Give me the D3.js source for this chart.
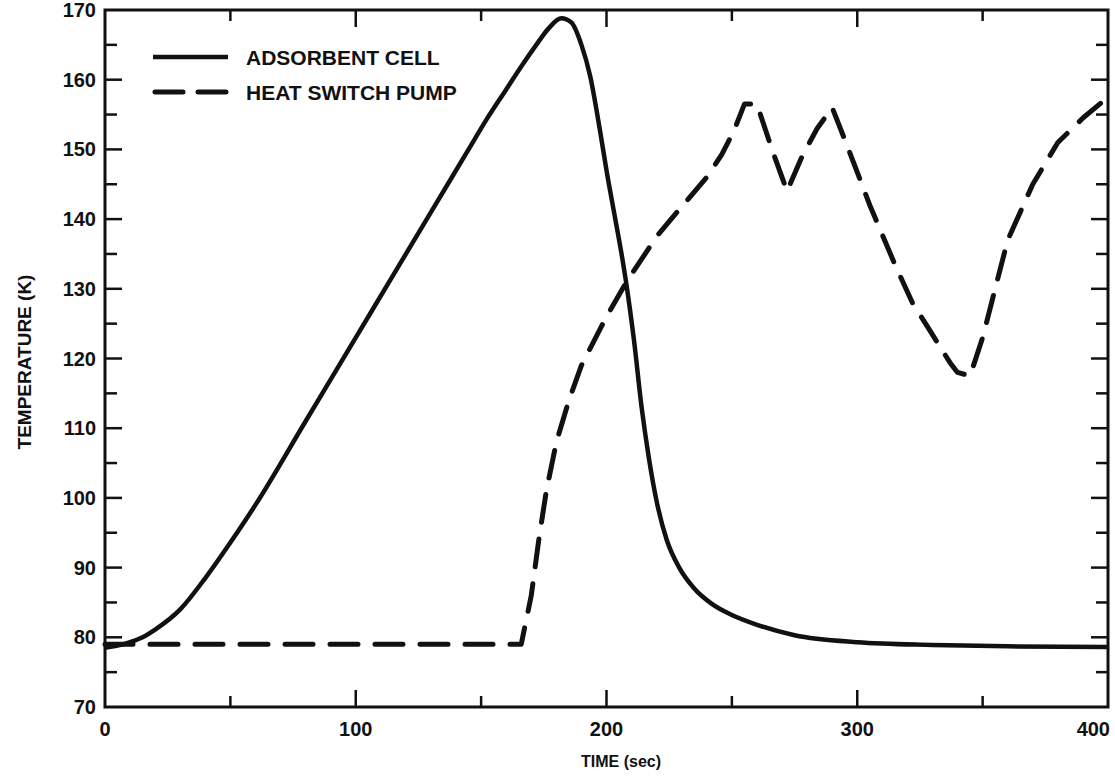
<!DOCTYPE html>
<html>
<head>
<meta charset="utf-8">
<script src="https://cdn.jsdelivr.net/npm/d3@7"></script>
<style>
  html, body { margin: 0; padding: 0; background: #fff; }
  svg { display: block; }
  text { font-family: "Liberation Sans", Arial, sans-serif; fill: #111; }
</style>
</head>
<body>
<svg id="chart"></svg>
<script>
// ---- data ----
const cellTime = [0, 5, 10, 15, 20, 30, 40, 50, 60, 80, 100, 115, 130, 145, 152, 160, 166, 172, 177, 182, 186, 190, 193.5, 197.5, 200, 203, 206, 208, 211, 214, 217, 220, 224, 229, 235, 242, 250, 260, 275, 300, 330, 360, 400];
const cellTemp = [78.5, 78.8, 79.3, 80, 81.1, 84, 88.5, 93.6, 99, 111, 123, 132, 141, 150, 154.2, 158.6, 161.9, 165, 167.4, 168.8, 168.2, 165, 160.5, 152.5, 147, 141, 135, 130.5, 122.5, 113, 105.5, 99.5, 94, 90, 87, 84.8, 83.2, 81.8, 80.3, 79.3, 78.9, 78.7, 78.6];

const pumpTime = [0, 166, 170, 173, 176, 180, 185, 190, 200, 208, 220, 230, 240, 246, 251, 255, 260, 266, 272, 278, 284, 290, 296, 305, 315, 322, 329, 337, 340, 345, 350, 355, 360, 370, 380, 390, 400];
const pumpTemp = [79, 79, 86, 94, 101, 108, 114, 119, 126, 131, 137.5, 141.8, 146, 149.3, 152.8, 156.5, 156.5, 150, 144, 149, 153, 156, 150.5, 142, 133.5, 128, 124, 119.4, 118, 117.5, 123, 130, 137, 145, 151, 154.5, 157.5];

const xTicks = [0, 100, 200, 300, 400];
const yTicks = [70, 80, 90, 100, 110, 120, 130, 140, 150, 160, 170];

const legendLabels = ["ADSORBENT CELL", "HEAT SWITCH PUMP"];

// ---- layout ----
const width = 1115, height = 783;
const plot = { left: 105, right: 1108, top: 10, bottom: 707 };
const ink = "#111";

const svg = d3.select("#chart").attr("width", width).attr("height", height);

const x = d3.scaleLinear().domain([0, 400]).range([plot.left, plot.right]);
const y = d3.scaleLinear().domain([70, 170]).range([plot.bottom, plot.top]);

// frame
svg.append("rect")
    .attr("x", plot.left).attr("y", plot.top)
    .attr("width", plot.right - plot.left).attr("height", plot.bottom - plot.top)
    .attr("fill", "none").attr("stroke", ink).attr("stroke-width", 3);

// ticks, all pointing inward
const xMinor = d3.range(0, 401, 50);
const yMinor = d3.range(70, 171, 5);
const tickLen = v => (v % 100 === 0 ? 17 : 11);
const tickLenY = v => (v % 10 === 0 ? 17 : 12);

const tk = svg.append("g").attr("stroke", ink).attr("stroke-width", 2.5);
xMinor.filter(v => v > 0 && v < 400).forEach(v => {
    tk.append("line").attr("x1", x(v)).attr("x2", x(v)).attr("y1", plot.bottom).attr("y2", plot.bottom - tickLen(v));
    tk.append("line").attr("x1", x(v)).attr("x2", x(v)).attr("y1", plot.top).attr("y2", plot.top + tickLen(v));
});
yMinor.filter(v => v > 70 && v < 170).forEach(v => {
    tk.append("line").attr("x1", plot.left).attr("x2", plot.left + tickLenY(v)).attr("y1", y(v)).attr("y2", y(v));
    tk.append("line").attr("x1", plot.right).attr("x2", plot.right - tickLenY(v)).attr("y1", y(v)).attr("y2", y(v));
});

// tick labels (last one kept inside the page, as in the scan)
svg.append("g").selectAll("text")
    .data(xTicks).join("text")
    .attr("x", d => d === 400 ? plot.right + 2 : x(d)).attr("y", plot.bottom + 29)
    .attr("text-anchor", d => d === 400 ? "end" : "middle")
    .attr("font-size", 20).attr("font-weight", "bold")
    .text(d => d);

svg.append("g").selectAll("text")
    .data(yTicks).join("text")
    .attr("x", plot.left - 9).attr("y", d => y(d) + 7)
    .attr("text-anchor", "end")
    .attr("font-size", 20).attr("font-weight", "bold")
    .text(d => d);

// axis titles
svg.append("text")
    .attr("x", 621).attr("y", 767)
    .attr("text-anchor", "middle")
    .attr("font-size", 16).attr("font-weight", "bold")
    .text("TIME (sec)");

svg.append("text")
    .attr("transform", "translate(31,362) rotate(-90)")
    .attr("text-anchor", "middle")
    .attr("font-size", 19).attr("font-weight", "bold")
    .text("TEMPERATURE (K)");

// curves
const cellData = cellTime.map((t, i) => [t, cellTemp[i]]);
const pumpData = pumpTime.map((t, i) => [t, pumpTemp[i]]);

const smooth = d3.line().x(d => x(d[0])).y(d => y(d[1])).curve(d3.curveMonotoneX);
const straight = d3.line().x(d => x(d[0])).y(d => y(d[1])).curve(d3.curveLinear);

svg.append("path")
    .attr("d", smooth(cellData))
    .attr("fill", "none").attr("stroke", ink)
    .attr("stroke-width", 4.5).attr("stroke-linejoin", "round");

svg.append("path")
    .attr("d", straight(pumpData))
    .attr("fill", "none").attr("stroke", ink)
    .attr("stroke-width", 5).attr("stroke-linecap", "round").attr("stroke-linejoin", "round")
    .attr("stroke-dasharray", "28,17");

// legend
const lg = svg.append("g");
lg.append("line")
    .attr("x1", 153).attr("x2", 228).attr("y1", 57).attr("y2", 57)
    .attr("stroke", ink).attr("stroke-width", 4.5);
lg.append("line")
    .attr("x1", 155).attr("x2", 226).attr("y1", 92).attr("y2", 92)
    .attr("stroke", ink).attr("stroke-width", 5).attr("stroke-linecap", "round")
    .attr("stroke-dasharray", "28,15");
lg.selectAll("text.lbl")
    .data(legendLabels).join("text")
    .attr("class", "lbl")
    .attr("x", 246).attr("y", (d, i) => 65 + i * 35)
    .attr("font-size", 21).attr("font-weight", "bold")
    .text(d => d);
</script>
</body>
</html>
